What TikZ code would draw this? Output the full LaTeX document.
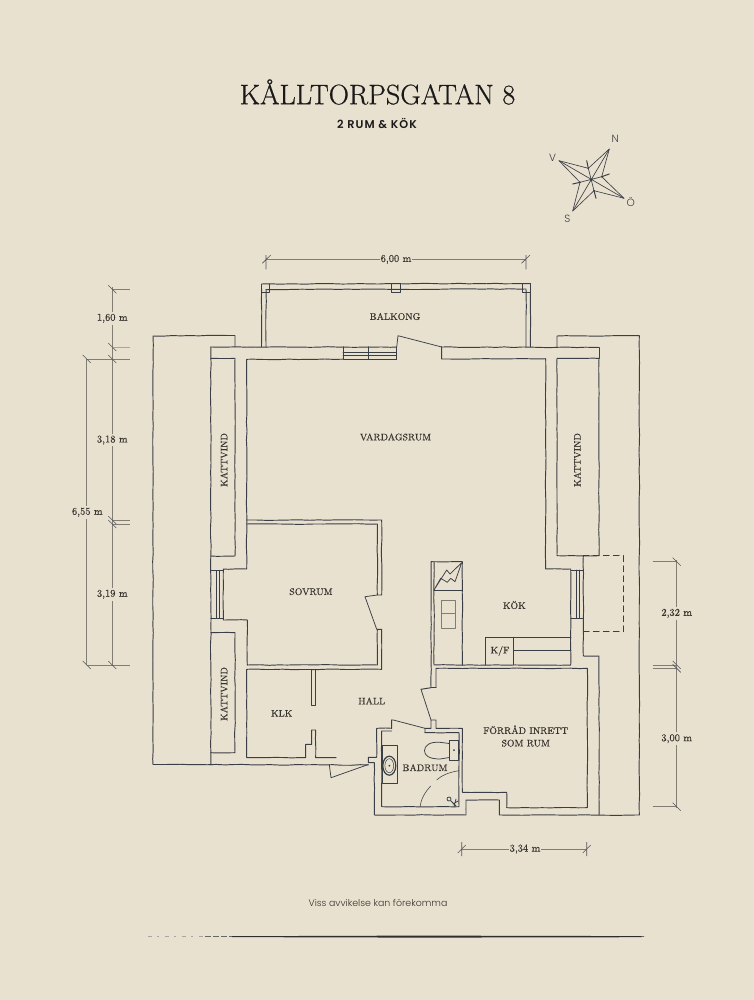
\documentclass[tikz,border=0pt]{standalone}
\usepackage{fontspec}
\usetikzlibrary{decorations.pathmorphing}
\newfontfamily\popl{Poppins Light}
\newfontfamily\pops[LetterSpace=9]{Poppins SemiBold}
\newfontfamily\lmtitle[FakeBold=0.55]{Latin Modern Roman}
\newfontfamily\lmlabel[FakeBold=0.3]{Latin Modern Roman}
\definecolor{paper}{HTML}{E9E1CF}
\definecolor{ink}{HTML}{3A3E46}
\definecolor{dimc}{HTML}{827D72}
\definecolor{txt}{HTML}{38342F}
\tikzset{
  wall/.style={draw=ink,line width=0.95pt,line cap=round,line join=round,
    decorate,decoration={random steps,segment length=9pt,amplitude=0.32pt}},
  fine/.style={draw=ink,line width=0.75pt,line cap=round,line join=round},
  dimline/.style={draw=dimc,line width=0.8pt},
  dimtick/.style={draw=ink!85!paper,line width=0.6pt},
  room/.style={font=\lmlabel\fontsize{9.5}{11}\selectfont,text=txt,inner sep=0pt,align=center},
  dimlabel/.style={font=\lmlabel\fontsize{10.4}{11}\selectfont,text=txt,fill=paper,inner xsep=1pt,inner ysep=2pt},
  compasslabel/.style={font=\popl\fontsize{10.5}{11}\selectfont,text=ink,inner sep=0pt}
}
\begin{document}
\begin{tikzpicture}[x=1pt,y=-1pt]
\path[fill=paper] (0,0) rectangle (754,1000);
\useasboundingbox (0,0) rectangle (754,1000);

% titles
\node[font=\lmtitle\fontsize{28.2}{32}\selectfont,text=black!90,inner sep=0pt] (title) at (377.5,92) {KÅLLTORPSGATAN 8};
\node[font=\pops\fontsize{11.3}{13}\selectfont,text=black!90,inner sep=0pt] (sub) at (377,123) {2 RUM \& KÖK};
\node[font=\popl\fontsize{9.4}{11}\selectfont,text=txt,inner sep=0pt] (note) at (378,903) {Viss avvikelse kan förekomma};

% compass
\begin{scope}[fine,line width=0.65pt]
\coordinate (cc) at (591,180);
\coordinate (cn) at (609.3,149);
\coordinate (cv) at (559,160.7);
\coordinate (co) at (624,198.3);
\coordinate (cs) at (572.7,211);
\coordinate (i1) at (588.3,168.3);
\coordinate (i2) at (601.7,176.7);
\coordinate (i3) at (594,190.7);
\coordinate (i4) at (580,182.3);
\draw (cn)--(i1)--(cv)--(i4)--(cs)--(i3)--(co)--(i2)--cycle;
\draw (cn)--(cs) (cv)--(co) (i1)--(i3) (i2)--(i4);
\draw[line width=1pt] (i1)--(586.7,160.7) (i2)--(609.3,174) (i3)--(596,198.3) (i4)--(572.7,184);
\fill[ink] (cc) circle (1.2) (i1) circle (0.9) (i2) circle (0.9) (i3) circle (0.9) (i4) circle (0.9);
\end{scope}
\node[compasslabel] (ln) at (615.3,139.3) {N};
\node[compasslabel] (lv) at (552.7,158.3) {V};
\node[compasslabel] (lo) at (630.7,201.7) {Ö};
\node[compasslabel] (ls) at (567.3,219) {S};

% outer roof block / main walls
\path[wall] (235,347)--(235,335.5)--(153,336)--(153,764.5)--(368.3,765);
\path[wall] (557,347)--(557,336)--(639.3,335.7)--(639.3,815)--(499.3,815)--(499.3,800)--(466,800)--(466,815)--(374.3,815)--(374.3,762.7)--(368.3,762.7)--(368.3,757.3)--(376.7,757.3)--(376.7,728.3)--(391.7,728.3)--(391.7,720);
\path[wall] (210.8,347)--(396.7,347);
\path[wall] (396.7,358.8)--(396.7,347);
\path[wall] (441.7,347)--(599,347.5);
\path[wall] (210.8,347)--(210.8,765);

% balcony
\path[wall] (261.5,347)--(261.5,284)--(530.5,283.5)--(530.5,347);
\path[wall] (266,347)--(266,289.5)--(526,289)--(526,347);
\draw[fine] (261.5,292.7)--(269,292.7)--(269,284) (522.7,284)--(522.7,292.7)--(530.5,292.7);
\draw[fine] (391.7,284)--(391.7,292.7)--(400,292.7)--(400,284);

% inner wall of living room
\path[wall] (343,359.2)--(246.7,359.3)--(246.7,569)--(223.3,569)--(223.3,620)--(247.3,620)--(247.3,665);
\path[wall] (441.7,347)--(441.7,359)--(545.7,358.7)--(545.7,569)--(570.7,569)--(570.7,665);
\draw[fine] (343,346.7)--(343,359)--(396.7,359) (343,352.3)--(396.7,352.3) (343,355.4)--(396.7,355.4) (368.3,346.7)--(368.3,359);

% living-room door
\draw[fine] (396.7,347)--(398,335.7)--(441.7,347);

% kattvind left top
\path[wall] (210.8,358.4)--(235,358.4)--(235,556)--(210.8,556);
% kattvind left bottom
\path[wall] (210.8,632.7)--(235,632.7)--(235,752.7)--(210.8,752.7);
% left window
\draw[fine] (210.8,570.7)--(223.3,570.7) (210.8,618.3)--(223.3,618.3) (216,570.7)--(216,618.3) (219,570.7)--(219,618.3);

% kattvind right
\path[wall] (557,358.4)--(599,358.4)--(599,555.7)--(557,555.7)--(557,358.4);
\path[wall] (599,347.5)--(599,358.4);
% right lower walls
\path[wall] (583.3,555.7)--(583.3,656)--(599,656)--(599,815);
\draw[fine,dash pattern=on 6pt off 4pt] (583.3,555.7)--(623.3,555.7)--(623.3,631.7)--(583.3,631.7);
\draw[fine] (570.7,570)--(583.3,570) (570.7,618)--(583.3,618) (576,570)--(576,618) (579,570)--(579,618);

% sovrum
\path[wall] (246.7,520)--(381.7,520)--(381.7,595)--(377.3,595)--(377.3,524)--(246.7,524);
\path[wall] (377.3,629.3)--(381.7,629.3)--(381.7,669.3)--(246.7,669.3)--(246.7,757.7)--(305.7,757.7)--(305.7,744.3)--(311.7,744.3)--(311.7,730)--(315.7,730)--(315.7,757.7)--(329.3,757.7)--(329.3,764.5);
\path[wall] (377.3,629.3)--(377.3,665)--(247.3,665);
\draw[fine] (377.3,595)--(365,596.7)--(376.7,629.3);
% klk wall
\draw[fine] (311,669.3)--(311,705)--(315.7,705)--(315.7,669.3);
% entrance door
\draw[fine] (329.3,764.5)--(331,777.7)--(368.3,764.5);

% kitchen unit
\path[wall] (462.3,665)--(462.3,561.7)--(431,561.7)--(431,687.7)--(421,689.3);
\path[wall] (434,561.7)--(434,665)--(570.7,665);
\path[wall] (436,687.7)--(436,668.3)--(587.3,668.3)--(587.3,807.7)--(506.7,807.7)--(506.7,792.3)--(462.3,792.3)--(462.3,728.3)--(436,728.3)--(436,720)--(431,720)--(431,728.3)--(425,728.3);
\draw[fine] (431,687.7)--(436,687.7);
\draw[fine] (434,590)--(462.3,590);
\draw[fine] (434,590)--(446.7,570)--(450,574)--(461.7,562.7)--(455,581.7)--(450.7,578.3)--(447.3,582.3)--(440.7,578.3)--cycle;
\draw[fine,draw=dimc] (441.7,600) rectangle (455,628.3);
\draw[draw=dimc,line width=1.4pt] (441.7,613.3)--(455,613.3);
\draw[fine] (421,689.3)--(431,720);

% K/F and worktop
\draw[fine] (485.7,665)--(485.7,637.3)--(571,637.3) (513.7,637.3)--(513.7,665) (513.7,650)--(571,650);

% bathroom
\draw[fine] (391.7,720)--(393.3,720)--(425,728.3)--(425,732.7);
\path[wall] (391.7,731)--(381.7,731)--(381.7,806.7)--(459,806.7)--(459,732.7)--(425,732.7);
\draw[fine] (382.3,745) rectangle (397.3,783.3);
\draw[fine,line width=1.2pt] (389.3,765.7) ellipse (6.5 and 9.5);
\draw[fine,line width=0.5pt] (389.3,765.7) ellipse (4.4 and 7);
\fill[ink] (389.3,765.7) circle (1);
\draw[fine] (449.3,740.7) rectangle (458.3,760);
\fill[ink] (454,750) circle (1);
\draw[fine] (449.3,743.5)--(440,742.3) .. controls (429,741.5) and (424.5,746) .. (424.5,750.7) .. controls (424.5,755.5) and (429,759) .. (440,759)--(449.3,757.5);
\draw[fine,line width=0.55pt] (459,770.7) .. controls (450,772) and (442,775) .. (436.7,780);
\draw[fine,line width=0.55pt] (430.7,786) .. controls (425,792) and (421,799) .. (420,806.7);
\draw[fine] (449,799) circle (2);
\draw[fine] (451,801)--(456,806) (456,799)--(454,806.7) (458,801)--(453,804);

% dimensions
\draw[dimline] (266,259.4)--(526,259.4);
\draw[dimtick] (266,255)--(266,269.3) (262.3,263.3)--(270.7,255);
\draw[dimtick] (526,255)--(526,269.3) (521.5,263.3)--(530,255);
\draw[dimline] (112.3,287)--(112.3,665) (86.7,359)--(86.7,665);
\draw[dimline] (112.3,289.3)--(130,289.3);
\draw[dimline,draw=dimc!60!paper] (112.3,347)--(130,347);
\draw[dimline] (86.7,359)--(130,359) (112.3,520)--(130,520) (112.3,524)--(130,524) (86.7,665)--(130,665);
\foreach \a/\b in {112.3/289.3,112.3/347,86.7/359,112.3/359,112.3/520,112.3/524,86.7/665,112.3/665}{
  \draw[dimtick] (\a-4,\b-4)--(\a+4,\b+4);}
\draw[dimline] (676.7,560)--(676.7,808) (652.7,561.7)--(676.7,561.7) (652.7,665)--(676.7,665) (652.7,668.3)--(676.7,668.3) (652.7,806.7)--(676.7,806.7);
\foreach \b in {561.7,665,668.3,806.7}{\draw[dimtick] (672.7,\b-4)--(680.7,\b+4);}
\draw[dimline] (461.7,849)--(586.7,849);
\draw[dimtick] (461.7,842)--(461.7,856) (457.7,853)--(465.7,845) (586.7,842)--(586.7,856) (582.7,853)--(590.7,845);

\node[dimlabel] (d600) at (396,259.4) {6,00 m};
\node[dimlabel] (d160) at (112.3,318.3) {1,60 m};
\node[dimlabel] (d318) at (112.3,440) {3,18 m};
\node[dimlabel] (d319) at (112.3,594.3) {3,19 m};
\node[dimlabel] (d655) at (87.3,512.3) {6,55 m};
\node[dimlabel] (d232) at (676.7,613.3) {2,32 m};
\node[dimlabel] (d300) at (676.7,738.7) {3,00 m};
\node[dimlabel] (d334) at (525,849) {3,34 m};

% room labels
\node[room] (balkong) at (395,316.5) {BALKONG};
\node[room] (vardag) at (395.5,437) {VARDAGSRUM};
\node[room,rotate=90] (k1) at (224,460) {KATTVIND};
\node[room,rotate=90] (k2) at (577.3,460) {KATTVIND};
\node[room,rotate=90] (k3) at (224,694) {KATTVIND};
\node[room] (sovrum) at (311,591.7) {SOVRUM};
\node[room] (klk) at (281.7,713.3) {KLK};
\node[room] (hall) at (371.7,701) {HALL};
\node[room] (kok) at (514.3,605) {KÖK};
\node[room] (kf) at (500,651) {K/F};
\node[room] (forrad) at (525.7,736) {FÖRRÅD INRETT\\[1.5pt]SOM RUM};
\node[room] (badrum) at (425,767.7) {BADRUM};

% bottom rule
\fill[black!82] (232,936.2) -- (420,935.6) -- (640,936.1) -- (645,936.6) -- (640,937.2) -- (420,937.6) -- (232,937.1) -- cycle;
\draw[draw=black!35,line width=0.5pt,dash pattern=on 4pt off 5pt on 2pt off 6pt] (148,936.6)--(205,936.6);
\draw[draw=black!60,line width=0.7pt,dash pattern=on 6pt off 2pt] (205,936.6)--(232,936.6);
\end{tikzpicture}
\end{document}
